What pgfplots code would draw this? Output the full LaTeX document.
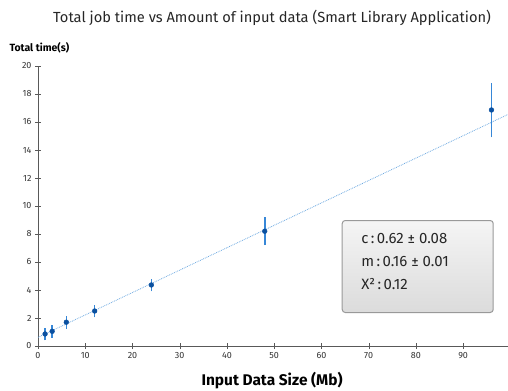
\documentclass[border=0pt]{standalone}
\usepackage{fontspec}
\setmainfont{Fira Sans}
\usepackage{pgfplots}
\pgfplotsset{compat=1.18}
\definecolor{ptblue}{RGB}{10,80,160}
\definecolor{errblue}{RGB}{55,135,215}
\definecolor{fitblue}{RGB}{110,170,225}
\begin{document}
\begin{tikzpicture}
\begin{axis}[
  scale only axis, width=470bp, height=280bp,
  xmin=0, xmax=99.5, ymin=0, ymax=20,
  axis lines=left, axis line style={-, gray!70!black},
  xtick={0,10,...,90}, ytick={0,2,...,20},
  tick align=center, major tick length=6bp,
  tick style={gray!70!black},
  tick label style={font=\fontsize{9}{10}\selectfont, text=black!80},
  /pgf/number format/assume math mode=true,
  clip=false, unbounded coords=jump,
]
\addplot[fitblue, densely dotted, thick] coordinates {(0,0.62) (99.5,16.54)};
% error bars (value +/- error) as vertical segments
\addplot[errblue, line width=1.6bp, mark=none, forget plot] coordinates {
(1.5,0.41) (1.5,1.31) (nan,nan)
(3,0.60) (3,1.50) (nan,nan)
(6,1.25) (6,2.15) (nan,nan)
(12,2.05) (12,2.95) (nan,nan)
(24,3.91) (24,4.81) (nan,nan)
(48,7.20) (48,9.20) (nan,nan)
(96,14.91) (96,18.81)
};
\addplot[only marks, mark=*, mark size=2.4bp, color=ptblue]
  table[x=x, y=y] {
x y
1.5 0.86
3 1.05
6 1.70
12 2.50
24 4.36
48 8.20
96 16.86
};
\node[draw=gray!80, line width=1bp, rounded corners=3bp, top color=white!92!gray, bottom color=gray!28,
  anchor=north west, minimum width=151bp, minimum height=92bp, inner sep=0pt]
  (box) at (axis cs:64.3,9.0) {};
\node[anchor=north west, align=left, font=\fontsize{15}{23}\selectfont, text=black!85]
  at ([xshift=16bp,yshift=-10bp]box.north west) {c\,:\,0.62 ± 0.08\\m\,:\,0.16 ± 0.01\\X²\,:\,0.12};
\node[font=\fontsize{14.7}{16}\selectfont, text=black!85] at ([yshift=48bp]rel axis cs:0.498,1) {Total job time vs Amount of input data (Smart Library Application)};
\node[font=\bfseries\fontsize{10.5}{12}\selectfont, anchor=west] at ([xshift=-32bp,yshift=18bp]rel axis cs:0,1) {Total time(s)};
\node[font=\bfseries\fontsize{15.5}{17}\selectfont] at ([yshift=-35bp]rel axis cs:0.498,0) {Input Data Size (Mb)};
\coordinate (BL) at ([xshift=-38bp,yshift=-45bp]rel axis cs:0,0);
\coordinate (TR) at ([yshift=66bp]rel axis cs:1,1);
\end{axis}
\pgfresetboundingbox
\path (BL) rectangle (TR);
\end{tikzpicture}
\end{document}
